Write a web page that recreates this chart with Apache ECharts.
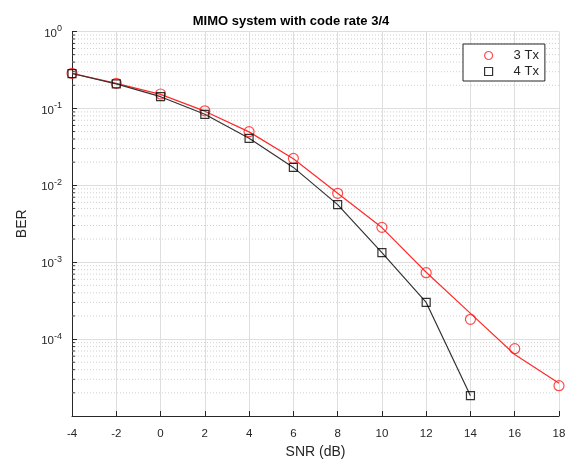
<!DOCTYPE html>
<html><head><meta charset="utf-8">
<script src="https://cdn.jsdelivr.net/npm/echarts@6/dist/echarts.min.js"></script>
<style>html,body{margin:0;padding:0;background:#fff}#c{width:576px;height:466px}</style>
</head><body><div id="c"></div>
<script>
const snr3 = [-4, -2, 0, 2, 4, 6, 8, 10, 12, 14, 16, 18];
const ber3 = [0.286, 0.212, 0.154, 0.093, 0.0498, 0.0224, 0.00787, 0.00284, 0.00073, 0.000181, 0.000075, 0.0000248];
const ber3Curve = [0.286, 0.212, 0.152, 0.092, 0.0495, 0.0222, 0.0079, 0.00282, 0.00074, 0.000216, 0.000063, 0.0000266];
const snr4 = [-4, -2, 0, 2, 4, 6, 8, 10, 12, 14];
const ber4 = [0.284, 0.208, 0.142, 0.0838, 0.0408, 0.0171, 0.0056, 0.00133, 0.0003, 0.0000184];
const xTicks = [-4, -2, 0, 2, 4, 6, 8, 10, 12, 14, 16, 18];
const seriesNames = ['3 Tx', '4 Tx'];
const xRange = [-4, 18];

const minorVals = [];
for (let e = -5; e < 0; e++) for (let m = 2; m <= 9; m++) minorVals.push(m * Math.pow(10, e));

const txt = '#262626';
const font = 'Liberation Sans, Arial, Helvetica, sans-serif';

const gridSeries = minorVals.map(v => ({
  type: 'line', data: [[xRange[0], v], [xRange[1], v]], symbol: 'none', silent: true, z: 1,
  lineStyle: { color: '#d0d0d0', type: [1, 2], width: 1 }
}));
const tickSeries = minorVals.map(v => ({
  type: 'line', data: [[xRange[0], v], [xRange[0] + 0.13, v]], symbol: 'none', silent: true, z: 2,
  lineStyle: { color: '#262626', type: 'solid', width: 1 }
}));

const chart = echarts.init(document.getElementById('c'));
chart.setOption({
  animation: false,
  backgroundColor: '#fff',
  title: { text: 'MIMO system with code rate 3/4', left: 286, top: 10, textAlign: 'center',
    textStyle: { fontFamily: font, fontSize: 13, fontWeight: 'bold', color: '#000' } },
  legend: {
    left: 463, top: 44, orient: 'vertical', padding: [5, 6, 3, 21], itemGap: 3,
    itemWidth: 8, itemHeight: 8,
    backgroundColor: '#fff', borderColor: '#262626', borderWidth: 1, borderRadius: 0,
    textStyle: { fontFamily: font, fontSize: 13, color: txt, padding: [0, 0, 0, 16] },
    data: [
      { name: seriesNames[0], icon: 'circle', itemStyle: { color: 'rgba(0,0,0,0)', borderColor: '#ff2020', borderWidth: 1.2 } },
      { name: seriesNames[1], icon: 'rect', itemStyle: { color: 'rgba(0,0,0,0)', borderColor: '#000', borderWidth: 1.2 } }
    ],
    selectedMode: false
  },
  grid: { left: 72, right: 17, top: 31.5, bottom: 50 },
  xAxis: {
    type: 'value', min: xRange[0], max: xRange[1], interval: 2,
    name: 'SNR (dB)', nameLocation: 'middle', nameGap: 29,
    nameTextStyle: { fontFamily: font, fontSize: 14, color: txt },
    axisLine: { onZero: false, lineStyle: { color: '#262626', width: 1 } },
    axisTick: { inside: true, length: 5, lineStyle: { color: '#262626' } },
    axisLabel: { fontFamily: font, fontSize: 11.5, color: txt, margin: 12,
      formatter: v => xTicks.includes(v) ? String(v) : '' },
    splitLine: { show: true, lineStyle: { color: '#dedede', width: 1 } }
  },
  yAxis: {
    type: 'log', logBase: 10, min: 0.00001, max: 1,
    name: 'BER', nameLocation: 'middle', nameGap: 43,
    nameTextStyle: { fontFamily: font, fontSize: 14, color: txt },
    axisLine: { show: true, onZero: false, lineStyle: { color: '#262626', width: 1 } },
    axisTick: { inside: true, length: 5, lineStyle: { color: '#262626' } },
    axisLabel: { margin: 10, color: txt,
      formatter: v => { const e = Math.round(Math.log10(v)); return e <= -5 ? '' : '{b|10}{s|' + e + '}'; },
      rich: { b: { fontFamily: font, fontSize: 11.5, color: txt, padding: [4, 0, 0, 0] },
              s: { fontFamily: font, fontSize: 9, color: txt, padding: [0, 0, 6, 0] } } },
    splitLine: { show: true, lineStyle: { color: '#dedede', width: 1 } }
  },
  series: gridSeries.concat(tickSeries).concat([
    {
      type: 'line', name: '_line3', data: snr3.map((x, i) => [x, ber3Curve[i]]),
      symbol: 'none', lineStyle: { color: '#ff2a2a', width: 1.2 }, silent: true, z: 3
    },
    {
      type: 'line', name: '_line4', data: snr4.map((x, i) => [x, ber4[i]]),
      symbol: 'none', lineStyle: { color: '#333333', width: 1.2 }, silent: true, z: 3
    },
    {
      type: 'scatter', name: seriesNames[0], data: snr3.map((x, i) => [x, ber3[i]]),
      symbol: 'circle', symbolSize: 10,
      itemStyle: { color: 'rgba(0,0,0,0)', borderColor: '#ff2020', borderWidth: 1.2 }, z: 4
    },
    {
      type: 'scatter', name: seriesNames[1], data: snr4.map((x, i) => [x, ber4[i]]),
      symbol: 'rect', symbolSize: 8,
      itemStyle: { color: 'rgba(0,0,0,0)', borderColor: '#000', borderWidth: 1.2 }, z: 4
    }
  ])
});
</script></body></html>
